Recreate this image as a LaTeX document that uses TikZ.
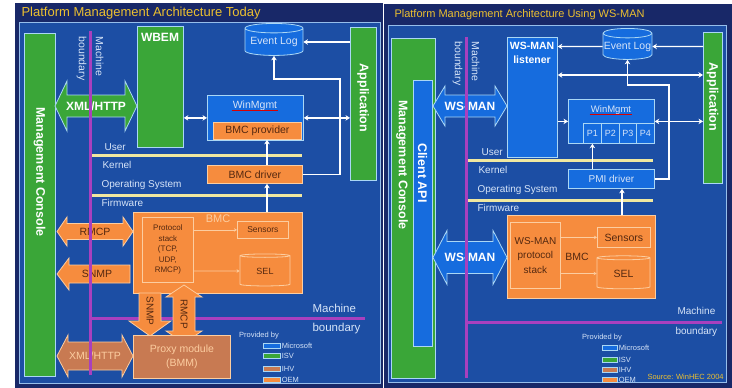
\documentclass[tikz,border=0pt]{standalone}
\usepackage{fontspec}
\setmainfont{Liberation Sans}
\usetikzlibrary{shapes.geometric,arrows.meta,positioning}

\definecolor{navy}{RGB}{24,40,104}
\definecolor{bgblue}{RGB}{28,78,164}
\definecolor{framelight}{RGB}{150,190,235}
\definecolor{edgelight}{RGB}{170,215,245}
\definecolor{isvgreen}{RGB}{58,166,56}
\definecolor{msblue}{RGB}{22,108,222}
\definecolor{oemorange}{RGB}{246,140,62}
\definecolor{ihvbrown}{RGB}{200,122,82}
\definecolor{orangeedge}{RGB}{252,205,160}
\definecolor{layeryellow}{RGB}{240,232,160}
\definecolor{boundpurple}{RGB}{168,64,190}
\definecolor{titleyellow}{RGB}{236,192,48}
\definecolor{darktext}{RGB}{84,40,16}
\definecolor{paletext}{RGB}{214,228,248}

\newcommand{\fsz}[1]{\fontsize{#1}{#1}\selectfont}

% wide arrows: x1, x2, y centre, shaft half, head half, head length, style
\newcommand{\wideLR}[7]{%
  \filldraw[#7] (#1,#3) -- (#1+#6,#3-#5) -- (#1+#6,#3-#4) -- (#2-#6,#3-#4)
    -- (#2-#6,#3-#5) -- (#2,#3) -- (#2-#6,#3+#5) -- (#2-#6,#3+#4)
    -- (#1+#6,#3+#4) -- (#1+#6,#3+#5) -- cycle;}
% points left, flat tail at x2
\newcommand{\wideL}[7]{%
  \filldraw[#7] (#1,#3) -- (#1+#6,#3-#5) -- (#1+#6,#3-#4) -- (#2,#3-#4)
    -- (#2,#3+#4) -- (#1+#6,#3+#4) -- (#1+#6,#3+#5) -- cycle;}
% vertical: x centre, y top, y bottom, shaft half, head half, head length, style
\newcommand{\wideUD}[7]{%
  \filldraw[#7] (#1,#2) -- (#1+#5,#2+#6) -- (#1+#4,#2+#6) -- (#1+#4,#3-#6)
    -- (#1+#5,#3-#6) -- (#1,#3) -- (#1-#5,#3-#6) -- (#1-#4,#3-#6)
    -- (#1-#4,#2+#6) -- (#1-#5,#2+#6) -- cycle;}
% points down, flat tail at y top
\newcommand{\wideD}[7]{%
  \filldraw[#7] (#1-#4,#2) -- (#1+#4,#2) -- (#1+#4,#3-#6) -- (#1+#5,#3-#6)
    -- (#1,#3) -- (#1-#5,#3-#6) -- (#1-#4,#3-#6) -- cycle;}

\begin{document}
\begin{tikzpicture}[x=1pt, y=-1pt, font=\fsz{10},
  box/.style={anchor=north west, inner sep=0pt, line width=0.8pt, draw=edgelight},
  greenbox/.style={box, fill=isvgreen},
  bluebox/.style={box, fill=msblue, text=paletext},
  orangebox/.style={box, fill=oemorange, draw=orangeedge, text=darktext},
  brownbox/.style={box, fill=ihvbrown, draw=orangeedge, text=orangeedge},
  dbcyl/.style={cylinder, shape border rotate=90, aspect=0.2, draw=edgelight,
    line width=0.8pt, fill=msblue, inner sep=0pt, text=paletext},
  greenarrow/.style={fill=isvgreen, draw=edgelight, line width=0.8pt},
  bluearrow/.style={fill=msblue, draw=edgelight, line width=0.8pt},
  orangearrow/.style={fill=oemorange, draw=orangeedge, line width=0.8pt},
  brownarrow/.style={fill=ihvbrown, draw=orangeedge, line width=0.8pt},
  conn/.style={draw=white, line width=1.4pt, -{Stealth[length=4.5pt,width=5.5pt]}},
  dconn/.style={conn, {Stealth[length=4.5pt,width=5.5pt]}-{Stealth[length=4.5pt,width=5.5pt]}},
  thinconn/.style={draw=orangeedge, line width=0.8pt, -{Stealth[length=3pt,width=3.5pt]}},
  layer/.style={draw=layeryellow, line width=3pt},
  boundary/.style={draw=boundpurple, line width=3pt},
  vtext/.style={rotate=-90, text=white, font=\bfseries\fsz{12.5}},
  boldtext/.style={text=white, font=\bfseries\fsz{12}},
  layertext/.style={anchor=west, text=paletext, font=\fsz{10}},
  swatch/.style={anchor=north west, minimum width=17, minimum height=5, inner sep=0pt,
    draw=edgelight, line width=0.6pt},
  legendtext/.style={anchor=west, text=paletext, font=\fsz{7.5}, inner sep=1pt}]
\useasboundingbox (0,0) rectangle (732,388);
\fill[white] (0,0) rectangle (732,388);

% panels
\fill[navy] (15,3) rectangle (383,388);
\fill[navy] (384,4) rectangle (732,388);
\filldraw[fill=bgblue, draw=framelight, line width=0.8pt] (19,22) rectangle (380,383);
\filldraw[fill=bgblue, draw=framelight, line width=0.8pt] (388,25) rectangle (726,382);
\node[anchor=west, text=titleyellow, font=\fsz{13}] (titleL) at (18,13) {Platform Management Architecture Today};
\node[anchor=west, text=titleyellow, font=\fsz{11}] (titleR) at (391,15) {Platform Management Architecture Using WS-MAN};

%%% Today
% software layers
\draw[layer] (92,155) -- (302,155);
\draw[layer] (92,195) -- (302,195);
\node[layertext] (userL) at (101,147) {User};
\node[layertext] (kernelL) at (99,165) {Kernel};
\node[layertext] (osL) at (98,185) {Operating System};
\node[layertext] (fwL) at (98,203) {Firmware};
\draw[boundary] (90,318) -- (365,318);

% boxes
\node[greenbox, minimum width=31, minimum height=343] (mcL) at (24,33) {};
\node[vtext] at (39.5,172) {Management Console};
\node[greenbox, minimum width=46, minimum height=121] (wbemL) at (137,26) {};
\node[boldtext, anchor=north] at (160,30) {WBEM};
\node[dbcyl, minimum width=58, minimum height=32, font=\fsz{10.5}] (evL) at (274,42) {Event Log};
\node[greenbox, minimum width=26, minimum height=153] (appL) at (350,27) {};
\node[vtext] at (363,98) {Application};
\node[bluebox, minimum width=96, minimum height=45] (wmL) at (207,95) {};
\node[text=paletext, font=\fsz{10.5}, inner sep=1pt] (wmtextL) at (255,106) {WinMgmt};
\draw[red!85!black, line width=0.6pt] ([yshift=-1.5pt]wmtextL.base west) -- ([yshift=-1.5pt]wmtextL.base east);
\node[orangebox, minimum width=88, minimum height=17, font=\fsz{10.5}] (provL) at (213,122) {BMC provider};
\node[orangebox, minimum width=95, minimum height=18, font=\fsz{10.5}] (drvL) at (207,165) {BMC driver};
\node[orangebox, minimum width=169, minimum height=81] (bmcL) at (133,212) {};
\node[text=orangeedge, font=\fsz{11}] (bmclabelL) at (218,219) {BMC};
\node[orangebox, minimum width=51, minimum height=65, align=center,
  font=\fontsize{8}{10.5}\selectfont] (stackL) at (142,217) {Protocol\\stack\\(TCP,\\UDP,\\RMCP)};
\node[orangebox, minimum width=51, minimum height=17, font=\fsz{8.5}] (sensL) at (237,221) {Sensors};
\node[dbcyl, fill=oemorange, draw=orangeedge, text=darktext, minimum width=50,
  minimum height=32, font=\fsz{9}] (selL) at (265,271) {SEL};

% wide arrows
\wideLR{55}{137}{106}{11}{25}{12}{greenarrow}
\node[boldtext] (xmlL) at (96,106) {XML/HTTP};
\wideLR{57}{133}{231.5}{8}{14.5}{10}{orangearrow}
\node[text=darktext, font=\fsz{10.5}] (rmcpL) at (95,231.5) {RMCP};
\wideL{57}{130}{274}{9}{16}{12}{orangearrow}
\node[text=darktext, font=\fsz{10.5}] (snmpL) at (97,274) {SNMP};
\wideD{150}{293}{336}{11}{21}{15}{orangearrow}
\node[rotate=-90, text=darktext, font=\fsz{10}] (snmpV) at (150,311) {SNMP};
\wideUD{184}{285}{343}{11}{18}{12}{orangearrow}
\node[rotate=-90, text=darktext, font=\fsz{10}] (rmcpV) at (184,314) {RMCP};
\wideLR{57}{133}{356}{14}{21}{11}{brownarrow}
\node[text=orangeedge, font=\fsz{10.5}] (xmlB) at (95,356) {XML/HTTP};
\node[brownbox, minimum width=97, minimum height=43, align=center,
  font=\fontsize{10.5}{14}\selectfont] (proxyL) at (133,335) {Proxy module\\(BMM)};

% machine boundary
\draw[boundary] (90,31) -- (90,375);
\node[rotate=-90, anchor=west, align=left, text=paletext, font=\fontsize{10.5}{17}\selectfont]
  (mbvL) at (90,33) {Machine\\boundary};
\node[anchor=west, text=paletext, font=\fsz{11.5}] (mbhL) at (309,308) {Machine};
\node[anchor=west, text=paletext, font=\fsz{11.5}] (mbhL2) at (309,329) {boundary};

% connectors
\draw[conn] (appL.west |- evL) -- (evL);
\coordinate (bendL) at (340,79);
\draw[conn] (drvL.east) -| (bendL) -| (evL);
\draw[dconn] (wbemL.east |- wmL.west) -- (wmL.west);
\draw[dconn] (wmL.east) -- (appL.west |- wmL.east);
\coordinate (upL) at (267,0);
\draw[conn] (upL |- drvL.north) -- (upL |- provL.south);
\draw[conn] (upL |- bmcL.north) -- (upL |- drvL.south);
\draw[thinconn] (stackL.east |- sensL.west) -- (sensL.west);
\draw[thinconn] (stackL.east |- selL) -- (selL);

% legend
\node[legendtext] (provbyL) at (238,336) {Provided by};
\foreach \c/\t/\y in {msblue/Microsoft/343, isvgreen/ISV/353, ihvbrown/IHV/366, oemorange/OEM/377}
  \node[swatch, fill=\c, label={[legendtext]east:\t}] (sw\t L) at (263,\y) {};

%%% WS-MAN
\draw[layer] (468,160) -- (653,160);
\draw[layer] (468,200) -- (653,200);
\node[layertext] (userR) at (478,152) {User};
\node[layertext] (kernelR) at (475,170) {Kernel};
\node[layertext] (osR) at (474,190) {Operating System};
\node[layertext] (fwR) at (474,208) {Firmware};
\draw[boundary] (466,322) -- (722,322);

\node[greenbox, minimum width=44, minimum height=340] (mcR) at (391,38) {};
\node[vtext] at (402,165) {Management Console};
\node[bluebox, minimum width=19, minimum height=266] (apiR) at (413,80) {};
\node[vtext] at (422.5,173) {Client API};
\node[bluebox, minimum width=50, minimum height=120] (lisR) at (507,37) {};
\node[text=white, font=\bfseries\fontsize{10.5}{14}\selectfont, align=center, anchor=north]
  (listextR) at (532,39) {WS-MAN\\listener};
\node[dbcyl, minimum width=49, minimum height=31, font=\fsz{10.5}] (evR) at (627.5,46.5) {Event Log};
\node[greenbox, minimum width=19, minimum height=151] (appR) at (703,32) {};
\node[vtext] at (712.5,97) {Application};
\node[bluebox, minimum width=86, minimum height=44] (wmR) at (568,99) {};
\node[text=paletext, font=\fsz{9.5}, inner sep=1pt] (wmtextR) at (611,110) {WinMgmt};
\draw[red!85!black, line width=0.6pt] ([yshift=-1.5pt]wmtextR.base west) -- ([yshift=-1.5pt]wmtextR.base east);
\foreach \i/\xa/\w in {1/583/18, 2/601/18, 3/619/17, 4/636/18}
  \node[bluebox, minimum width=\w, minimum height=20, font=\fsz{9}] (p\i R) at (\xa,123) {P\i};
\node[bluebox, minimum width=86, minimum height=19, font=\fsz{10}] (pmiR) at (568,169) {PMI driver};
\node[orangebox, minimum width=148, minimum height=83] (bmcR) at (507,215) {};
\node[orangebox, minimum width=50, minimum height=66, align=center,
  font=\fontsize{10}{14.5}\selectfont] (stackR) at (510,222) {WS-MAN\\protocol\\stack};
\node[text=darktext, font=\fsz{10.5}] (bmclabelR) at (577,257) {BMC};
\node[orangebox, minimum width=53, minimum height=20, font=\fsz{10.5}] (sensR) at (597,227) {Sensors};
\node[dbcyl, fill=oemorange, draw=orangeedge, text=darktext, minimum width=53,
  minimum height=33, font=\fsz{10.5}] (selR) at (623.5,273.5) {SEL};

\wideLR{433}{507}{106}{11}{20}{12}{bluearrow}
\node[boldtext] (wsmanR) at (470,106) {WS-MAN};
\wideLR{433}{507}{257.5}{16}{27}{14}{bluearrow}
\node[boldtext] (wsmanR2) at (470,257.5) {WS-MAN};

\draw[boundary] (466,37) -- (466,378);
\node[rotate=-90, anchor=west, align=left, text=paletext, font=\fontsize{10.5}{17}\selectfont]
  (mbvR) at (466,38) {Machine\\boundary};
\node[anchor=west, text=paletext, font=\fsz{10}] (mbhR) at (674,311) {Machine};
\node[anchor=west, text=paletext, font=\fsz{10}] (mbhR2) at (672,332) {boundary};

\draw[conn] (appR.west |- evR) -- (evR);
\draw[conn] (evR) -- (lisR.east |- evR);
\coordinate (busR) at (620,75);
\draw[dconn] (lisR.east |- busR) -- (appR.west |- busR);
\draw[conn] (lisR.east |- wmR.west) -- (wmR.west);
\draw[dconn] (wmR.east) -- (appR.west |- wmR.east);
\draw[conn] (pmiR.north -| p1R.south) -- (p1R.south);
\coordinate (upR) at (622,0);
\draw[conn] (upR |- bmcR.north) -- (upR |- pmiR.south);
\coordinate (bendR) at (669,85);
\draw[conn] (pmiR.east) -| (bendR) -| (evR);
\draw[thinconn] (stackR.east |- sensR.west) -- (sensR.west);
\draw[thinconn] (stackR.east |- selR) -- (selR);

\node[legendtext] (provbyR) at (581,338) {Provided by};
\foreach \c/\t/\y in {msblue/Microsoft/345, isvgreen/ISV/357, ihvbrown/IHV/367, oemorange/OEM/377}
  \node[swatch, minimum width=15, fill=\c, label={[legendtext]east:\t}] (sw\t R) at (602,\y) {};
\node[anchor=west, text=titleyellow, font=\fsz{7.5}] (sourceR) at (644,377) {Source: WinHEC 2004};
\end{tikzpicture}
\end{document}
